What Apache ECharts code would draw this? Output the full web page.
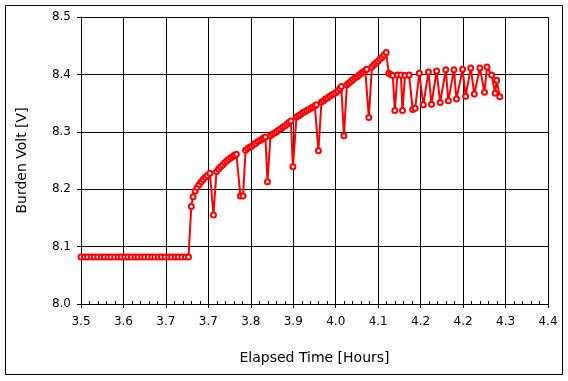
<!DOCTYPE html>
<html>
<head>
<meta charset="utf-8">
<script src="https://cdn.jsdelivr.net/npm/echarts@6/dist/echarts.min.js"></script>
<style>
html,body{margin:0;padding:0;background:#fff;}
#c{width:568px;height:381px;}
</style>
</head>
<body>
<div id="c"></div>
<script>
// Elapsed time [hours]
const hours = [
  3.500,3.507,3.513,3.520,3.526,3.533,3.540,3.546,3.553,3.559,3.566,3.573,3.579,3.586,3.592,3.599,3.606,
  3.612,3.619,3.625,3.632,3.639,3.645,3.652,3.658,3.665,3.672,3.678,3.685,3.691,3.698,3.705,3.711,
  3.7165,3.720,3.724,3.728,3.732,3.736,3.740,3.744,3.748,3.753,3.760,3.766,
  3.770,3.774,3.778,3.782,3.786,3.790,3.794,3.798,3.801,3.805,3.813,3.818,3.823,
  3.827,3.831,3.835,3.839,3.843,3.847,3.851,3.855,3.858,3.862,3.866,3.872,
  3.876,3.880,3.884,3.888,3.892,3.896,3.900,3.904,3.908,3.912,3.916,3.923,
  3.927,3.931,3.935,3.939,3.943,3.947,3.951,3.955,3.959,3.962,3.966,3.972,
  3.976,3.980,3.984,3.988,3.992,3.996,4.000,4.004,4.008,4.011,4.016,4.022,
  4.026,4.030,4.034,4.038,4.042,4.046,4.050,4.054,4.058,4.061,4.065,4.071,
  4.075,4.079,4.083,4.087,4.091,4.095,4.099,4.104,4.108,4.112,4.116,4.121,4.128,4.131,4.136,4.144,
  4.151,4.156,4.164,4.172,4.182,4.188,4.198,4.205,4.216,4.221,4.232,4.237,4.249,4.255,4.265,4.272,
  4.283,4.292,4.297,4.306,4.313,4.316,4.322
];
// Burden volt [V]
const volts = [
  8.082,8.082,8.082,8.082,8.082,8.082,8.082,8.082,8.082,8.082,8.082,8.082,8.082,8.082,8.082,8.082,8.082,
  8.082,8.082,8.082,8.082,8.082,8.082,8.082,8.082,8.082,8.082,8.082,8.082,8.082,8.082,8.082,8.082,
  8.170,8.187,8.197,8.203,8.208,8.213,8.217,8.221,8.224,8.228,8.155,8.231,
  8.235,8.239,8.242,8.246,8.249,8.252,8.255,8.257,8.259,8.261,8.188,8.188,8.268,
  8.271,8.273,8.275,8.278,8.280,8.283,8.285,8.287,8.289,8.291,8.213,8.293,
  8.296,8.298,8.300,8.303,8.305,8.308,8.310,8.313,8.316,8.319,8.239,8.326,
  8.328,8.330,8.333,8.335,8.337,8.339,8.341,8.343,8.345,8.347,8.267,8.352,
  8.354,8.357,8.359,8.362,8.364,8.366,8.368,8.371,8.375,8.379,8.293,8.382,
  8.385,8.388,8.391,8.394,8.396,8.399,8.402,8.404,8.407,8.409,8.325,8.413,
  8.417,8.420,8.423,8.427,8.430,8.434,8.438,8.402,8.400,8.398,8.337,8.399,8.399,8.337,8.398,8.399,
  8.339,8.341,8.402,8.347,8.404,8.348,8.406,8.351,8.408,8.354,8.408,8.357,8.409,8.362,8.411,8.366,
  8.411,8.369,8.413,8.399,8.367,8.390,8.361
];
const xTickLabels = ['3.5','3.6','3.7','3.7','3.8','3.9','4.0','4.1','4.2','4.2','4.3','4.4'];
const xMin = 3.5, xStep = 1 / 12;
const xMax = xMin + xStep * (xTickLabels.length - 1);

const chart = echarts.init(document.getElementById('c'), null, {renderer: 'canvas'});
const FONT = 'DejaVu Sans';
chart.setOption({
  animation: false,
  backgroundColor: '#fff',
  graphic: [{
    type: 'rect', shape: {x: 5.5, y: 5.5, width: 557, height: 369},
    style: {fill: 'none', stroke: '#000', lineWidth: 1}, silent: true
  }],
  grid: {left: 81, top: 17, right: 20, bottom: 77, show: false},
  xAxis: [{
    type: 'value', min: xMin, max: xMax, interval: xStep,
    position: 'bottom',
    name: 'Elapsed Time [Hours]', nameLocation: 'middle', nameGap: 47,
    nameTextStyle: {fontFamily: FONT, fontSize: 14, color: '#000'},
    axisLine: {show: true, lineStyle: {color: '#000', width: 1}},
    axisTick: {show: true, inside: false, length: 4, lineStyle: {color: '#000'}},
    axisLabel: {
      margin: 12, fontFamily: FONT, fontSize: 12, color: '#000',
      formatter: function (v) { const i = Math.round((v - xMin) / xStep); return xTickLabels[i] || ''; }
    },
    splitLine: {show: true, lineStyle: {color: '#000', width: 1}},
    minorTick: {show: false}
  }, {
    type: 'value', min: xMin, max: xMax, interval: xStep,
    position: 'bottom',
    axisLine: {show: false},
    axisTick: {show: false, inside: true},
    axisLabel: {show: false},
    splitLine: {show: false},
    minorTick: {show: true, splitNumber: 5, length: 3, lineStyle: {color: '#000', width: 1}}
  }],
  yAxis: {
    type: 'value', min: 8.0, max: 8.5, interval: 0.1,
    name: 'Burden Volt [V]', nameLocation: 'middle', nameGap: 52,
    nameTextStyle: {fontFamily: FONT, fontSize: 14, color: '#000'},
    axisLine: {show: true, lineStyle: {color: '#000', width: 1}},
    axisTick: {show: true, inside: false, length: 4, lineStyle: {color: '#000'}},
    axisLabel: {margin: 10, fontFamily: FONT, fontSize: 12, color: '#000',
      formatter: function (v) { return v.toFixed(1); }},
    splitLine: {show: true, lineStyle: {color: '#000', width: 1}}
  },
  series: [{
    type: 'line',
    xAxisIndex: 0,
    data: hours.map((h, i) => [h, volts[i]]),
    symbol: 'emptyCircle', symbolSize: 5, showAllSymbol: true,
    lineStyle: {color: '#ff0000', width: 2},
    itemStyle: {color: '#ff0000', borderWidth: 1},
    clip: false
  }]
});
</script>
</body>
</html>
